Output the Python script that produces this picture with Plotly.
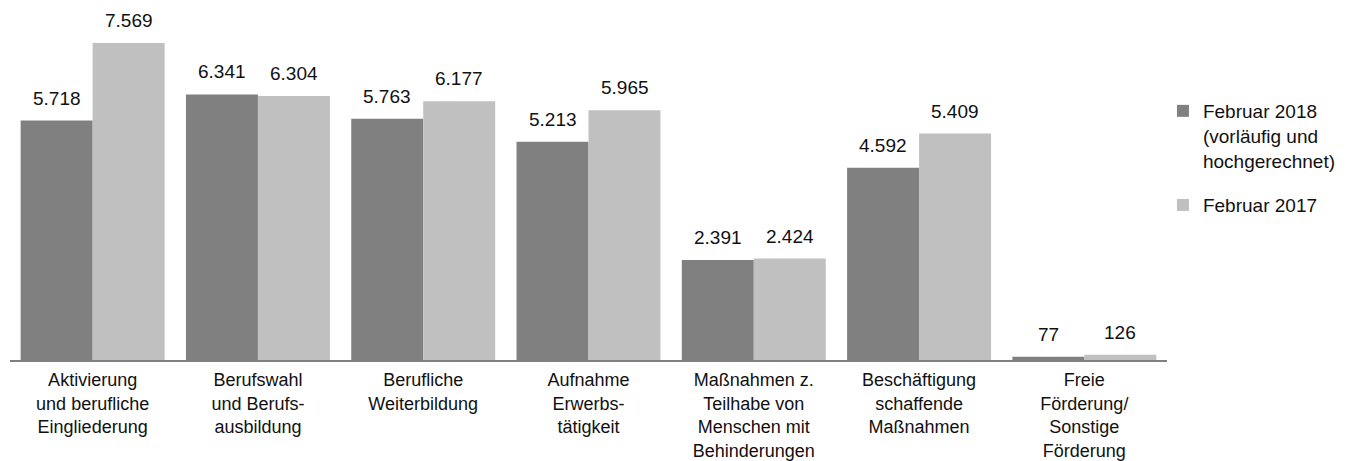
import plotly.graph_objects as go

categories = [
    "Aktivierung<br>und berufliche<br>Eingliederung",
    "Berufswahl<br>und Berufs-<br>ausbildung",
    "Berufliche<br>Weiterbildung",
    "Aufnahme<br>Erwerbs-<br>tätigkeit",
    "Maßnahmen z.<br>Teilhabe von<br>Menschen mit<br>Behinderungen",
    "Beschäftigung<br>schaffende<br>Maßnahmen",
    "Freie<br>Förderung/<br>Sonstige<br>Förderung",
]
feb2018 = [5718, 6341, 5763, 5213, 2391, 4592, 77]
feb2017 = [7569, 6304, 6177, 5965, 2424, 5409, 126]
series_names = ["Februar 2018<br>(vorläufig und<br>hochgerechnet)", "Februar 2017"]
colors = ["#808080", "#c0c0c0"]

def de(v):
    return f"{v:,}".replace(",", ".")

FONT = "Liberation Sans, Arial, sans-serif"
FS = 19

fig = go.Figure()
for name, vals, col, grp in [(series_names[0], feb2018, colors[0], "a"),
                              (series_names[1], feb2017, colors[1], "b")]:
    fig.add_trace(go.Bar(x=categories, y=vals, name=name, marker_color=col,
                         marker_line_width=0, legendgroup=grp, hoverinfo="x+y"))

anns = []
for i, c in enumerate(categories):
    for vals, xs in [(feb2018, -36), (feb2017, 36)]:
        anns.append(dict(x=c, y=vals[i], xref="x", yref="y", text=de(vals[i]),
                         showarrow=False, xshift=xs, yshift=10, yanchor="bottom",
                         font=dict(family=FONT, size=FS, color="#111111")))

fig.update_layout(
    width=1352, height=461,
    margin=dict(l=10, r=185, t=25, b=101, autoexpand=False),
    paper_bgcolor="white", plot_bgcolor="white",
    barmode="group", bargap=0.129, bargroupgap=0,
    font=dict(family=FONT, size=FS, color="#111111"),
    annotations=anns,
    showlegend=True,
    legend=dict(x=0.9965, xanchor="left", y=0.800, yanchor="top",
                valign="top", tracegroupgap=17,
                font=dict(family=FONT, size=FS, color="#111111"),
                bgcolor="rgba(0,0,0,0)"),
    xaxis=dict(showline=True, linecolor="#808080", linewidth=1.5,
               ticks="", showgrid=False, tickfont=dict(size=18),
               ticklabelstandoff=3,
               range=[-0.5, 6.5], automargin=False),
    yaxis=dict(range=[0, 8000], showgrid=False, showticklabels=False,
               zeroline=False, showline=False, ticks="", automargin=False),
)

fig.write_html("out.html", config={"displayModeBar": False},
               post_script="document.body.style.margin='0';document.body.style.overflow='hidden';")
